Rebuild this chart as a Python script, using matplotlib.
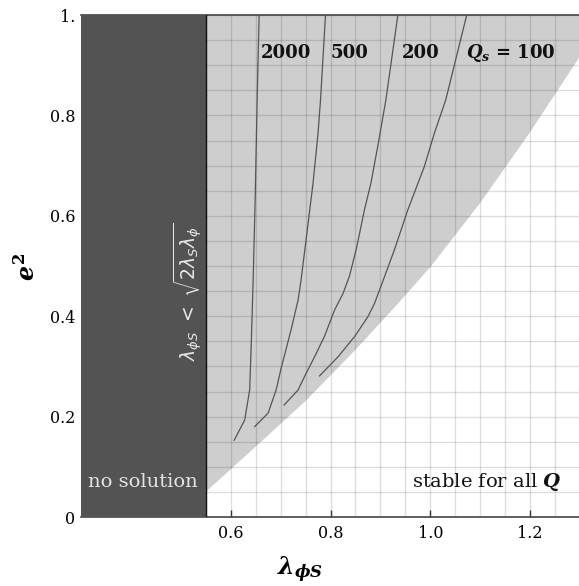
import matplotlib
matplotlib.use("Agg")
import matplotlib.pyplot as plt
from matplotlib.patches import Rectangle

plt.rcParams['mathtext.fontset'] = 'custom'
plt.rcParams['mathtext.rm'] = 'DejaVu Serif:bold'
plt.rcParams['mathtext.it'] = 'DejaVu Serif:italic:bold'
plt.rcParams['mathtext.bf'] = 'DejaVu Serif:bold'
plt.rcParams['font.family'] = ['DejaVu Serif']

# ---- data ----
x_min, x_max = 0.3, 1.3
y_min, y_max = 0.0, 1.0
no_sol_edge = 0.55

bnd_x = [0.55, 0.60, 0.65, 0.75, 0.85, 0.935, 1.00, 1.10, 1.195, 1.30]
bnd_y = [0.052, 0.097, 0.142, 0.233, 0.335, 0.427, 0.500, 0.628, 0.762, 0.920]

q2000_x = [0.607, 0.628, 0.638, 0.641, 0.645, 0.649, 0.653, 0.657]
q2000_y = [0.153, 0.193, 0.253, 0.339, 0.472, 0.631, 0.831, 1.000]

q500_x = [0.648, 0.675, 0.691, 0.701, 0.721, 0.735, 0.741, 0.751, 0.765, 0.775, 0.780, 0.790]
q500_y = [0.180, 0.207, 0.253, 0.296, 0.373, 0.432, 0.472, 0.552, 0.665, 0.764, 0.831, 1.000]

q200_x = [0.707, 0.735, 0.751, 0.768, 0.788, 0.808, 0.825, 0.838, 0.852, 0.868, 0.881, 0.895, 0.911, 0.935]
q200_y = [0.223, 0.253, 0.286, 0.319, 0.360, 0.412, 0.445, 0.480, 0.535, 0.612, 0.665, 0.740, 0.831, 1.000]

q100_x = [0.778, 0.815, 0.848, 0.875, 0.888, 0.905, 0.928, 0.955, 0.988, 1.008, 1.031, 1.073]
q100_y = [0.281, 0.319, 0.359, 0.399, 0.425, 0.470, 0.532, 0.612, 0.698, 0.764, 0.831, 1.000]

curve_labels = ["2000", "500", "200", r"$Q_s$ = 100"]
label_x = [0.661, 0.801, 0.943, 1.071]
label_y = 0.925

x_ticks = [0.6, 0.8, 1.0, 1.2]
x_tick_labels = ["0.6", "0.8", "1.0", "1.2"]
y_ticks = [0.0, 0.2, 0.4, 0.6, 0.8, 1.0]
y_tick_labels = ["0", "0.2", "0.4", "0.6", "0.8", "1."]

# ---- figure ----
W, H = 579, 586
fig = plt.figure(figsize=(W / 100, H / 100), dpi=100)
ax = fig.add_axes([81 / W, 69 / H, 499 / W, 502 / H])
ax.set_xlim(x_min, x_max)
ax.set_ylim(y_min, y_max)

# light region
ax.fill_between(bnd_x, bnd_y, y_max, color='#cecece', lw=0, zorder=1)

# grid
grid_step = 0.05
gx = [0.55 + i * grid_step for i in range(0, 16)]
gy = [i * grid_step for i in range(0, 21)]
for v in gx:
    ax.axvline(v, color='k', alpha=0.13, lw=1.0, zorder=1.5)
for v in gy:
    ax.axhline(v, color='k', alpha=0.13, lw=1.0, zorder=1.5)

# curves
for cx, cy in [(q2000_x, q2000_y), (q500_x, q500_y), (q200_x, q200_y), (q100_x, q100_y)]:
    ax.plot(cx, cy, color='#555555', lw=0.9, zorder=2, solid_joinstyle='round')

for lab, lx in zip(curve_labels, label_x):
    ax.text(lx, label_y, lab, fontsize=13, fontweight='bold', ha='left', va='center',
            color='#111111', zorder=4)

# no solution region
ax.add_patch(Rectangle((x_min, y_min), no_sol_edge - x_min, y_max - y_min,
                       facecolor='#535353', edgecolor='none', zorder=3, clip_on=False))
ax.plot([no_sol_edge, no_sol_edge], [y_min, y_max], color='#111111', lw=1.0, zorder=3.5)

ax.text(0.4246, 0.070, "no solution", fontsize=14, color='#e4e4e4',
        ha='center', va='center', zorder=4)
ax.text(0.5146, 0.448, r"$\lambda_{\phi S}\ <\ \sqrt{2\lambda_S\lambda_\phi}$",
        fontsize=13.5, color='#e8e8e8', rotation=90, ha='center', va='center',
        math_fontfamily='dejavusans', zorder=4)
ax.text(1.262, 0.070, r"stable for all $Q$", fontsize=14, color='#111111',
        ha='right', va='center', zorder=4)

# spines & ticks
ax.spines['left'].set_visible(False)
ax.spines['right'].set_visible(False)
ax.spines['top'].set_color('#444444')
ax.spines['bottom'].set_color('#444444')
ax.spines['top'].set_linewidth(1.2)
ax.spines['bottom'].set_linewidth(1.2)
ax.set_xticks(x_ticks)
ax.set_xticklabels(x_tick_labels)
ax.set_yticks(y_ticks)
ax.set_yticklabels(y_tick_labels)
ax.tick_params(axis='x', direction='in', length=5, width=1, color='#333333',
               labelsize=11.5, pad=6)
ax.tick_params(axis='y', length=0, labelsize=11.5, pad=4)

fig.text(300 / W, 1 - 570 / H, r"$\lambda_{\phi S}$", fontsize=17, ha='center', va='center')
fig.text(27 / W, 1 - 267 / H, r"$e^2$", fontsize=17, ha='center', va='center', rotation=90)

fig.savefig("out.png", dpi=100)
